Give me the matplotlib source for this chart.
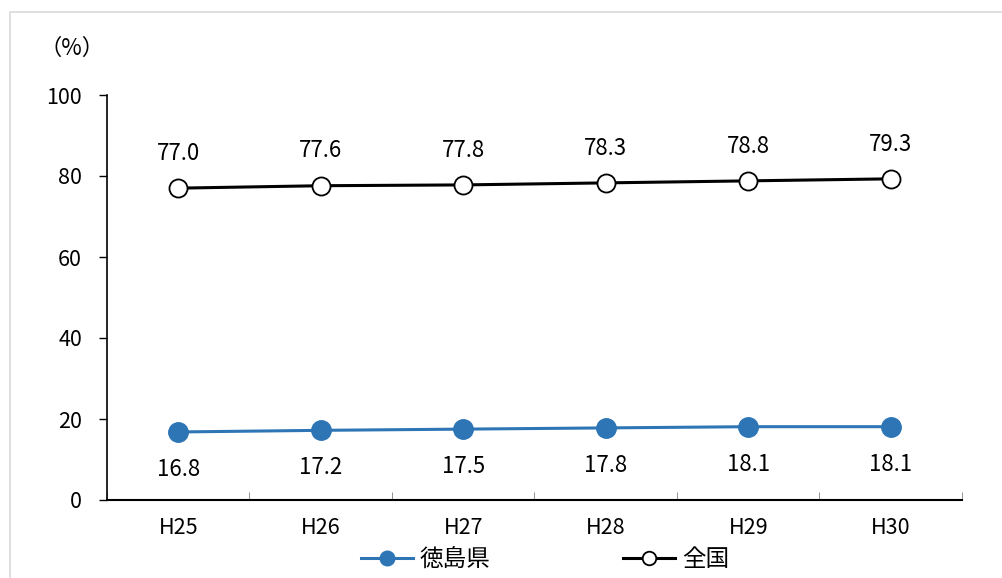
import matplotlib
matplotlib.use("Agg")
import matplotlib.pyplot as plt
from matplotlib.patches import Rectangle

plt.rcParams["font.family"] = ["Noto Sans CJK JP", "DejaVu Sans"]

years = ["H25", "H26", "H27", "H28", "H29", "H30"]
tokushima = [16.8, 17.2, 17.5, 17.8, 18.1, 18.1]
national = [77.0, 77.6, 77.8, 78.3, 78.8, 79.3]

BLUE = "#2E75B6"

fig = plt.figure(figsize=(10.03, 5.78), dpi=100)
fig.patches.append(Rectangle((10 / 1003, -0.1), 1.2, 1 - 12 / 578 + 0.1,
                             transform=fig.transFigure, fill=False,
                             edgecolor="#d9d9d9", linewidth=1.2))
ax = fig.add_axes([107 / 1003, 1 - 500 / 578, 855 / 1003, 405 / 578])

x = list(range(len(years)))
ax.plot(x, tokushima, color=BLUE, lw=2.2, marker="o", ms=14,
        mfc=BLUE, mec=BLUE, label="徳島県", zorder=3)
ax.plot(x, national, color="black", lw=2.2, marker="o", ms=13,
        mfc="white", mec="black", mew=1.3, label="全国", zorder=3)

for i, v in enumerate(tokushima):
    ax.annotate(f"{v:.1f}", (i, v), xytext=(0, -27), textcoords="offset points",
                ha="center", va="center", fontsize=16)
for i, v in enumerate(national):
    ax.annotate(f"{v:.1f}", (i, v), xytext=(0, 25), textcoords="offset points",
                ha="center", va="center", fontsize=16)

ax.set_xlim(-0.5, len(years) - 0.5)
ax.set_ylim(0, 100)
ax.set_yticks(range(0, 101, 20))
ax.tick_params(axis="y", labelsize=15.5, length=6, width=1, direction="out", pad=12)
ax.set_xticks(x)
ax.set_xticklabels(years)
ax.tick_params(axis="x", which="major", length=0, labelsize=15.5, pad=12)
ax.set_xticks([i - 0.5 for i in range(len(years) + 1)], minor=True)
ax.tick_params(axis="x", which="minor", length=6, direction="in", color="#808080")

for s in ["top", "right"]:
    ax.spines[s].set_visible(False)
ax.spines["left"].set_linewidth(1.2)
ax.spines["bottom"].set_linewidth(1.5)

fig.text(72 / 1003, 1 - 48 / 578, "（%）", ha="center", va="center", fontsize=16)

ax.legend(loc="center", bbox_to_anchor=(0.512, -0.148), ncol=2, frameon=False,
          fontsize=17, handlelength=2.2, columnspacing=5.6, handletextpad=0.3,
          markerscale=0.75, borderpad=0)

fig.savefig("out.png", dpi=100, facecolor="white")
